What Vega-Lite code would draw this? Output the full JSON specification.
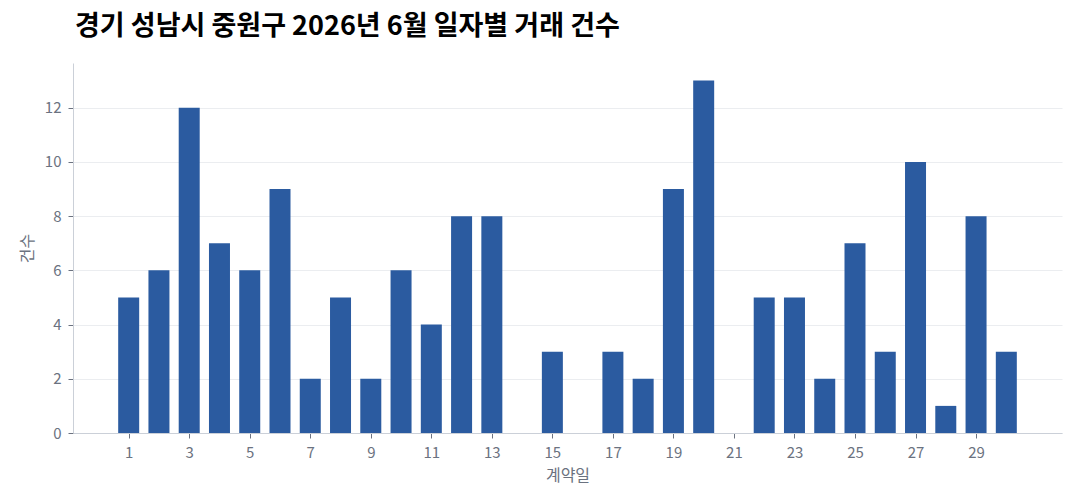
{
  "$schema": "https://vega.github.io/schema/vega-lite/v6.json",
  "autosize": "none",
  "width": 989,
  "height": 370,
  "padding": {"left": 73, "top": 63, "right": 18, "bottom": 71},
  "title": {
    "text": "경기 성남시 중원구 2026년 6월 일자별 거래 건수",
    "anchor": "start",
    "frame": "group",
    "dx": 2,
    "offset": 22,
    "font": "Noto Sans CJK KR",
    "fontSize": 27,
    "fontWeight": "bold",
    "color": "#000000"
  },
  "config": {
    "view": {"stroke": null},
    "font": "Noto Sans CJK KR",
    "axis": {
      "labelFont": "Noto Sans CJK KR",
      "titleFont": "Noto Sans CJK KR",
      "labelColor": "#6b7280",
      "titleColor": "#6b7280",
      "labelFontSize": 15,
      "titleFontSize": 16,
      "titleFontWeight": "normal",
      "domainColor": "#cbd0d8",
      "tickColor": "#6b7280",
      "gridColor": "#ebedf0",
      "tickSize": 5
    }
  },
  "data": {
    "values": [
      {"day": 1, "count": 5},
      {"day": 2, "count": 6},
      {"day": 3, "count": 12},
      {"day": 4, "count": 7},
      {"day": 5, "count": 6},
      {"day": 6, "count": 9},
      {"day": 7, "count": 2},
      {"day": 8, "count": 5},
      {"day": 9, "count": 2},
      {"day": 10, "count": 6},
      {"day": 11, "count": 4},
      {"day": 12, "count": 8},
      {"day": 13, "count": 8},
      {"day": 15, "count": 3},
      {"day": 17, "count": 3},
      {"day": 18, "count": 2},
      {"day": 19, "count": 9},
      {"day": 20, "count": 13},
      {"day": 22, "count": 5},
      {"day": 23, "count": 5},
      {"day": 24, "count": 2},
      {"day": 25, "count": 7},
      {"day": 26, "count": 3},
      {"day": 27, "count": 10},
      {"day": 28, "count": 1},
      {"day": 29, "count": 8},
      {"day": 30, "count": 3}
    ]
  },
  "mark": {"type": "bar", "width": 21, "color": "#2b5ba0"},
  "encoding": {
    "x": {
      "field": "day",
      "type": "quantitative",
      "title": "계약일",
      "scale": {"domain": [-0.84, 31.84], "nice": false, "zero": false, "padding": 0},
      "axis": {
        "values": [1, 3, 5, 7, 9, 11, 13, 15, 17, 19, 21, 23, 25, 27, 29],
        "grid": false,
        "labelPadding": 7,
        "titlePadding": 7
      }
    },
    "y": {
      "field": "count",
      "type": "quantitative",
      "title": "건수",
      "scale": {"domain": [0, 13.65], "nice": false, "padding": 0},
      "axis": {
        "values": [0, 2, 4, 6, 8, 10, 12],
        "labelPadding": 7,
        "titlePadding": 9
      }
    }
  }
}
